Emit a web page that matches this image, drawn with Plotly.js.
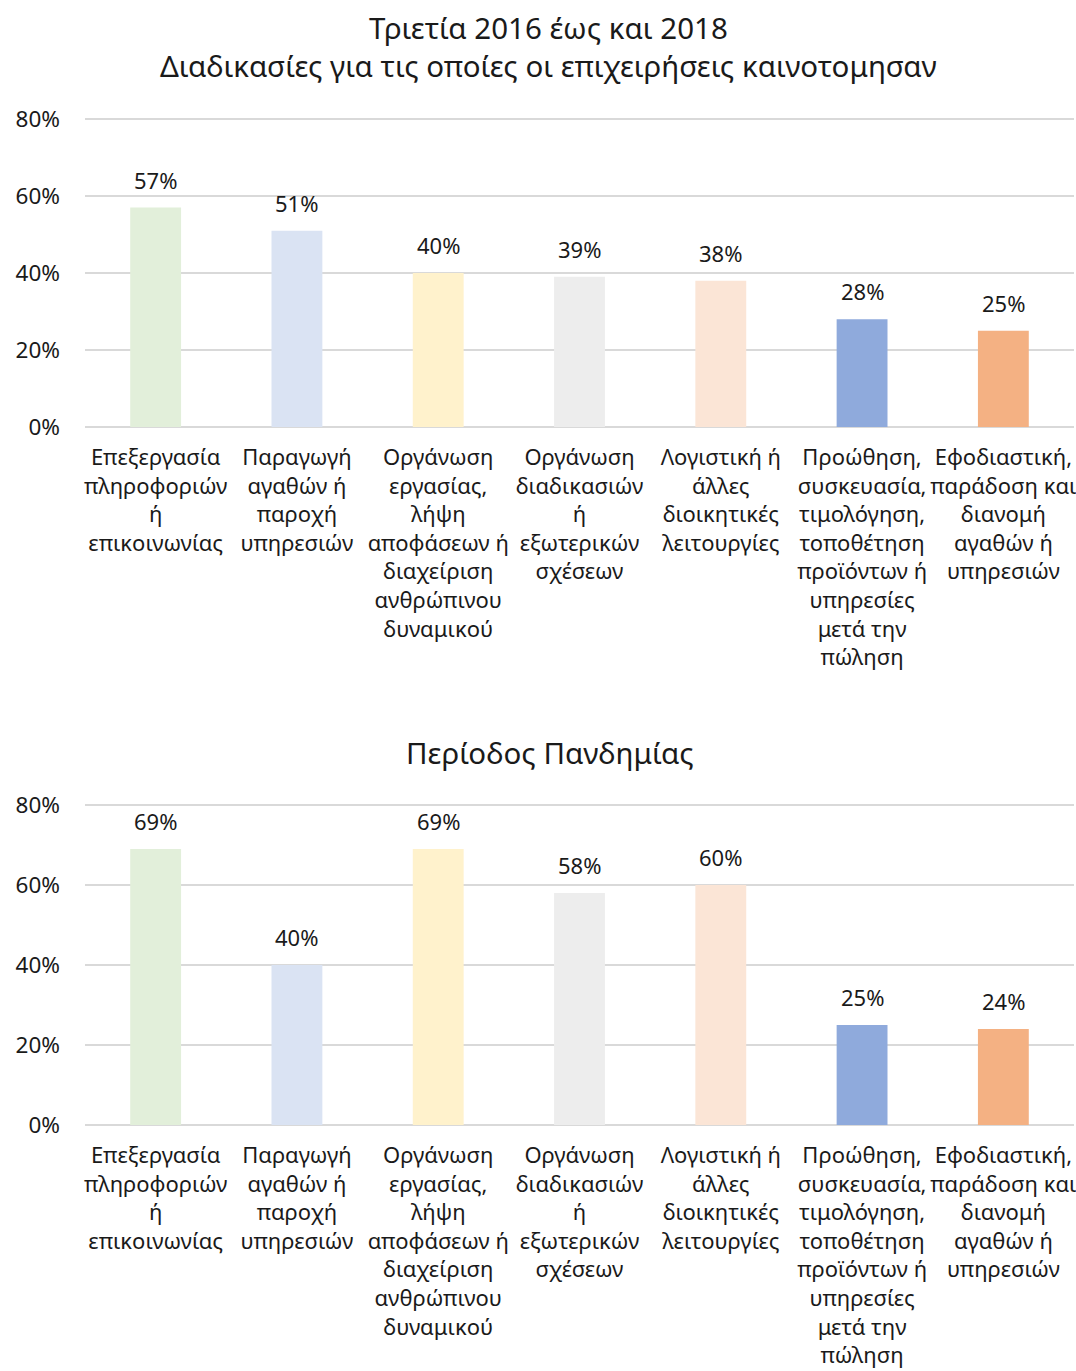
<!DOCTYPE html>
<html>
<head>
<meta charset="utf-8">
<script src="https://cdn.plot.ly/plotly-3.0.1.min.js"></script>
<style>html,body{margin:0;padding:0;background:#fff;}#chart{width:1076px;height:1371px;}</style>
</head>
<body>
<div id="chart"></div>
<script>
const categories = [
  "Επεξεργασία<br>πληροφοριών<br>ή<br>επικοινωνίας",
  "Παραγωγή<br>αγαθών ή<br>παροχή<br>υπηρεσιών",
  "Οργάνωση<br>εργασίας,<br>λήψη<br>αποφάσεων ή<br>διαχείριση<br>ανθρώπινου<br>δυναμικού",
  "Οργάνωση<br>διαδικασιών<br>ή<br>εξωτερικών<br>σχέσεων",
  "Λογιστική ή<br>άλλες<br>διοικητικές<br>λειτουργίες",
  "Προώθηση,<br>συσκευασία,<br>τιμολόγηση,<br>τοποθέτηση<br>προϊόντων ή<br>υπηρεσίες<br>μετά την<br>πώληση",
  "Εφοδιαστική,<br>παράδοση και<br>διανομή<br>αγαθών ή<br>υπηρεσιών"
];
const values2016_2018 = [57, 51, 40, 39, 38, 28, 25];
const valuesPandemic = [69, 40, 69, 58, 60, 25, 24];
const barColors = ["#E2EFDA", "#DAE3F3", "#FFF2CC", "#EDEDED", "#FBE5D6", "#8FAADC", "#F4B183"];
const title1 = "Τριετία 2016 έως και 2018<br>Διαδικασίες για τις οποίες οι επιχειρήσεις καινοτομησαν";
const title2 = "Περίοδος Πανδημίας";
const yTickVals = [0, 20, 40, 60, 80];
const yTickText = ["0%", "20%", "40%", "60%", "80%"];

const FONT = "Noto Sans, Open Sans, sans-serif";
const H = 1371;
const YMAX = 80.4;
const pTop = [1 - 427 / H, 1 - (427 - 308 * YMAX / 80) / H];
const pBot = [1 - 1125 / H, 1 - (1125 - 320 * YMAX / 80) / H];
const plotL = 85, plotW = 1076 - 85 - 2;

const traces = [
  {type: "bar", x: categories, y: values2016_2018, marker: {color: barColors}, xaxis: "x", yaxis: "y", hoverinfo: "none"},
  {type: "bar", x: categories, y: valuesPandemic, marker: {color: barColors}, xaxis: "x2", yaxis: "y2", hoverinfo: "none"}
];

const annotations = [];
values2016_2018.forEach((v, i) => annotations.push({x: categories[i], y: v, xref: "x", yref: "y", text: v + "%", showarrow: false, yanchor: "bottom", yshift: 11, font: {family: FONT, size: 22, color: "#1a1a1a"}}));
valuesPandemic.forEach((v, i) => annotations.push({x: categories[i], y: v, xref: "x2", yref: "y2", text: v + "%", showarrow: false, yanchor: "bottom", yshift: 11, font: {family: FONT, size: 22, color: "#1a1a1a"}}));
annotations.push({text: title1, xref: "paper", yref: "paper", x: (548 - plotL) / plotW, y: 1 - 47 / H, yanchor: "middle", xanchor: "center", showarrow: false, font: {family: FONT, size: 29.5, color: "#1a1a1a"}});
annotations.push({text: title2, xref: "paper", yref: "paper", x: (550 - plotL) / plotW, y: 1 - 752 / H, yanchor: "middle", xanchor: "center", showarrow: false, font: {family: FONT, size: 29.5, color: "#1a1a1a"}});

const yax = {range: [0, YMAX], tickvals: yTickVals, ticktext: yTickText, showgrid: true, gridcolor: "#D9D9D9", gridwidth: 2, zeroline: true, zerolinecolor: "#D9D9D9", zerolinewidth: 2, showline: false, ticks: "", ticklabelstandoff: 24, tickfont: {family: FONT, size: 22.5, color: "#1a1a1a"}, fixedrange: true};
const xax = {type: "category", showline: false, ticks: "", ticklabelstandoff: 15, tickfont: {family: FONT, size: 22, color: "#1a1a1a"}, tickangle: 0, fixedrange: true};

const layout = {
  width: 1076, height: 1371,
  margin: {l: plotL, r: 2, t: 0, b: 0},
  paper_bgcolor: "#fff", plot_bgcolor: "#fff",
  showlegend: false,
  bargap: 0.64,
  font: {family: FONT, color: "#1a1a1a"},
  xaxis: Object.assign({}, xax, {anchor: "y", domain: [0, 1]}),
  yaxis: Object.assign({}, yax, {anchor: "x", domain: pTop}),
  xaxis2: Object.assign({}, xax, {anchor: "y2", domain: [0, 1]}),
  yaxis2: Object.assign({}, yax, {anchor: "x2", domain: pBot}),
  annotations: annotations
};

Plotly.newPlot("chart", traces, layout, {displayModeBar: false, staticPlot: true});
</script>
</body>
</html>
